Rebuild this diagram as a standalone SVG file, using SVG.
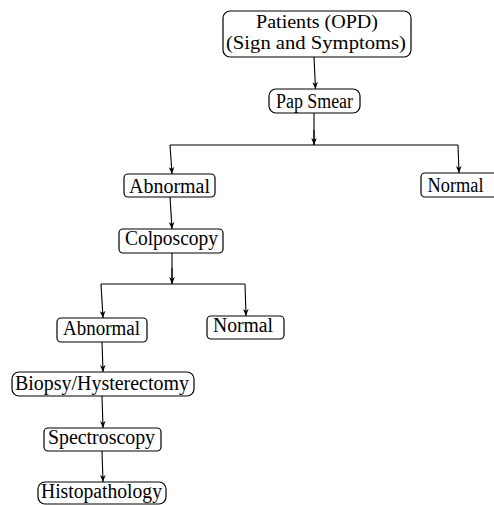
<svg xmlns="http://www.w3.org/2000/svg" width="494" height="505" viewBox="0 0 494 505">
<defs>
<marker id="ah" viewBox="0 0 10 10" refX="10" refY="5" markerWidth="7" markerHeight="7" orient="auto" markerUnits="userSpaceOnUse">
<path d="M0,1 L10,5 L0,9 L3,5 Z" fill="#000"/>
</marker>
<style>
.box{fill:#fff;stroke:#000;stroke-width:1.2}
.t{font-family:"Liberation Serif","Times New Roman",serif;font-size:20px;fill:#000;text-anchor:middle}
.s{font-size:18px}
.c{fill:none;stroke:#000;stroke-width:1.1}
.a{fill:none;stroke:#000;stroke-width:1.1;marker-end:url(#ah)}
</style>
</defs>
<rect width="494" height="505" fill="#fff"/>
<g id="connectors">
<line class="a" x1="314" y1="57" x2="315.5" y2="89"/>
<line class="c" x1="314" y1="113" x2="314" y2="145"/>
<polyline class="c" points="170,145 458,145"/>
<line class="a" x1="314" y1="130" x2="314" y2="145"/>
<line class="a" x1="170" y1="145" x2="172" y2="174"/>
<line class="a" x1="458" y1="145" x2="459" y2="173"/>
<line class="a" x1="170" y1="197" x2="172" y2="229"/>
<line class="c" x1="172" y1="253" x2="172" y2="284"/>
<line class="a" x1="172" y1="268" x2="172" y2="284"/>
<polyline class="c" points="101,284 245,284"/>
<line class="a" x1="101" y1="284" x2="103" y2="318"/>
<line class="a" x1="245" y1="284" x2="246" y2="316"/>
<line class="a" x1="102" y1="342" x2="103" y2="372"/>
<line class="a" x1="102" y1="396" x2="103" y2="428"/>
<line class="a" x1="102" y1="451" x2="103" y2="482"/>
</g>
<g id="patients">
<rect class="box" x="223" y="11" width="188" height="46" rx="7"/>
<text class="t s" x="317" y="28" textLength="122" lengthAdjust="spacingAndGlyphs">Patients (OPD)</text>
<text class="t s" x="316" y="48.5" textLength="180" lengthAdjust="spacingAndGlyphs">(Sign and Symptoms)</text>
</g>
<g id="papsmear">
<rect class="box" x="269" y="89" width="91" height="24" rx="7"/>
<text class="t" x="314.5" y="108" textLength="77" lengthAdjust="spacingAndGlyphs">Pap Smear</text>
</g>
<g id="abnormal1">
<rect class="box" x="124" y="174" width="91" height="23" rx="4"/>
<text class="t" x="169.5" y="192.5" textLength="81" lengthAdjust="spacingAndGlyphs">Abnormal</text>
</g>
<g id="normal1">
<rect class="box" x="421" y="173" width="80" height="24" rx="4"/>
<text class="t" x="455.5" y="192" textLength="56" lengthAdjust="spacingAndGlyphs">Normal</text>
</g>
<g id="colposcopy">
<rect class="box" x="119" y="229" width="104" height="24" rx="4"/>
<text class="t" x="171.5" y="245" textLength="93" lengthAdjust="spacingAndGlyphs">Colposcopy</text>
</g>
<g id="abnormal2">
<rect class="box" x="57" y="318" width="90" height="24" rx="4"/>
<text class="t" x="101.5" y="335" textLength="77" lengthAdjust="spacingAndGlyphs">Abnormal</text>
</g>
<g id="normal2">
<rect class="box" x="207" y="316" width="77" height="23" rx="4"/>
<text class="t" x="243" y="331.5" textLength="60" lengthAdjust="spacingAndGlyphs">Normal</text>
</g>
<g id="biopsy">
<rect class="box" x="12" y="372" width="182" height="24" rx="7"/>
<text class="t" x="102" y="390" textLength="174" lengthAdjust="spacingAndGlyphs">Biopsy/Hysterectomy</text>
</g>
<g id="spectroscopy">
<rect class="box" x="44" y="428" width="117" height="23" rx="4"/>
<text class="t" x="101.5" y="443.5" textLength="107" lengthAdjust="spacingAndGlyphs">Spectroscopy</text>
</g>
<g id="histopathology">
<rect class="box" x="38" y="482" width="128" height="22" rx="7"/>
<text class="t" x="101.5" y="498" textLength="121" lengthAdjust="spacingAndGlyphs">Histopathology</text>
</g>
</svg>
